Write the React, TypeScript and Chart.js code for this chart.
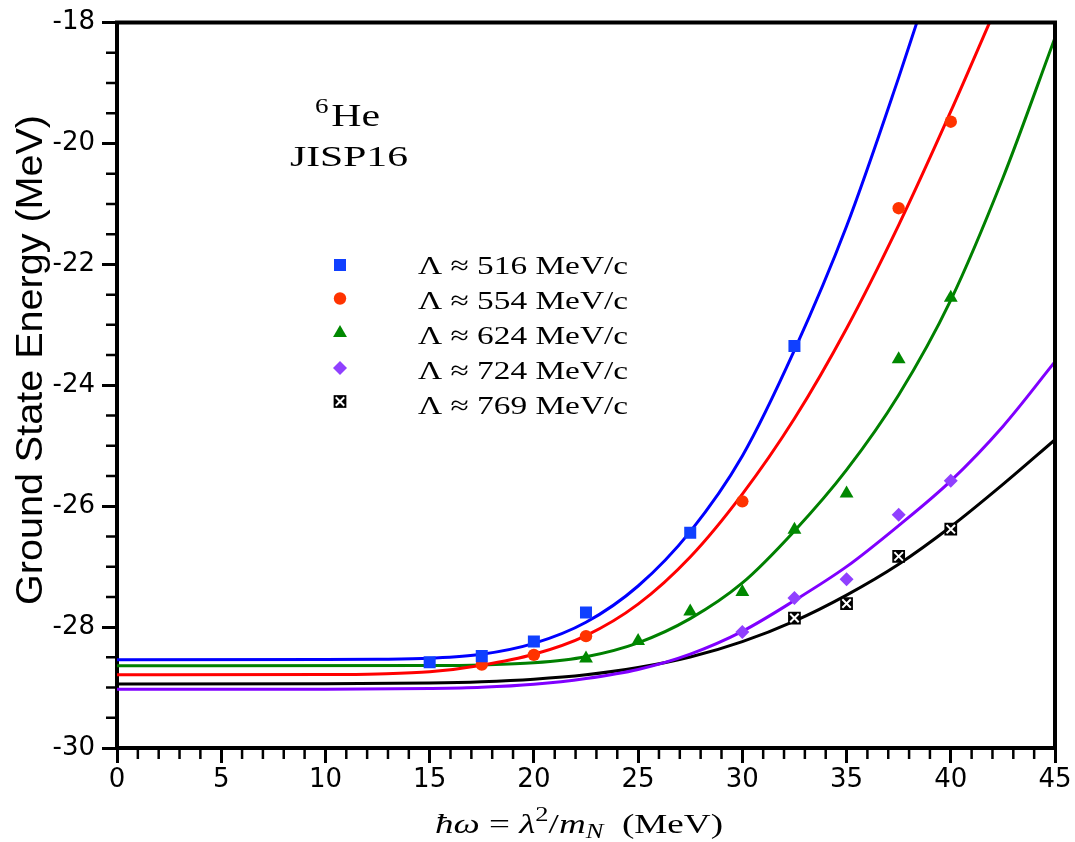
import React, { useEffect, useRef } from 'react';
import { Chart, registerables } from 'chart.js';

Chart.register(...registerables);

// ---------- data ----------
const xTickLabels = ['0', '5', '10', '15', '20', '25', '30', '35', '40', '45'];
const yTickLabels = ['-30', '-28', '-26', '-24', '-22', '-20', '-18'];

const seriesLabels = [
  'Λ ≈ 516 MeV/c',
  'Λ ≈ 554 MeV/c',
  'Λ ≈ 624 MeV/c',
  'Λ ≈ 724 MeV/c',
  'Λ ≈ 769 MeV/c',
];

// computed points
const hw516 = [15, 17.5, 20, 22.5, 27.5, 32.5];
const e516 = [-28.58, -28.48, -28.24, -27.76, -26.44, -23.35];
const hw554 = [17.5, 20, 22.5, 30, 37.5, 40];
const e554 = [-28.62, -28.46, -28.15, -25.92, -21.07, -19.64];
const hw624 = [22.5, 25, 27.5, 30, 32.5, 35, 37.5, 40];
const e624 = [-28.52, -28.23, -27.74, -27.42, -26.39, -25.79, -23.57, -22.55];
const hw724 = [30, 32.5, 35, 37.5, 40];
const e724 = [-28.08, -27.52, -27.21, -26.14, -25.58];
const hw769 = [32.5, 35, 37.5, 40];
const e769 = [-27.85, -27.61, -26.83, -26.38];

// fitted curves
const fitX516 = [0, 10, 12.5, 15, 17.5, 20, 22.5, 25, 27.5, 30, 32.5, 35, 37.5, 38.37];
const fit516 = [-28.54, -28.538, -28.533, -28.515, -28.45, -28.27, -27.92, -27.32, -26.42, -25.17, -23.42, -21.37, -18.91, -18.0];
const fitX554 = [0, 10, 12.5, 15, 17.5, 20, 22.5, 25, 27.5, 30, 32.5, 35, 37.5, 40, 41.86];
const fit554 = [-28.79, -28.785, -28.775, -28.74, -28.63, -28.45, -28.14, -27.62, -26.84, -25.8, -24.55, -23.06, -21.35, -19.47, -18.0];
const fitX624 = [0, 15, 17.5, 20, 22.5, 25, 27.5, 30, 32.5, 35, 37.5, 40, 42.5, 45];
const fit624 = [-28.64, -28.635, -28.625, -28.59, -28.49, -28.26, -27.86, -27.27, -26.41, -25.4, -24.16, -22.59, -20.57, -18.25];
const fitX724 = [0, 10, 15, 17.5, 20, 22.5, 25, 27.5, 30, 32.5, 35, 37.5, 40, 42.5, 45];
const fit724 = [-29.03, -29.028, -29.016, -28.996, -28.946, -28.85, -28.7, -28.446, -28.07, -27.56, -27.0, -26.32, -25.58, -24.68, -23.61];
const fitX769 = [0, 10, 15, 17.5, 20, 22.5, 25, 27.5, 30, 32.5, 35, 37.5, 40, 42.5, 45];
const fit769 = [-28.94, -28.938, -28.926, -28.905, -28.863, -28.79, -28.67, -28.495, -28.24, -27.9, -27.47, -26.96, -26.34, -25.64, -24.9];

// ---------- styles ----------
const lineColors = ['#0000ff', '#ff0000', '#008000', '#8000ff', '#000000'];
const markerColors = ['#1040ff', '#ff3300', '#008800', '#9040ff', '#000000'];
const SERIF = '"Liberation Serif", "Times New Roman", serif';
const SANS = '"Liberation Sans", Arial, sans-serif';

const pts = (xs: number[], ys: number[]) => xs.map((x, i) => ({ x, y: ys[i] }));

type Piece = { text: string; font: string; dy?: number; dx?: number };

function drawRich(ctx: CanvasRenderingContext2D, pieces: Piece[], x: number, y: number, targetW: number) {
  const widths = pieces.map((p) => {
    ctx.font = p.font;
    return ctx.measureText(p.text).width + (p.dx || 0);
  });
  const total = widths.reduce((a, b) => a + b, 0);
  const sx = targetW / total;
  ctx.save();
  ctx.translate(x, y);
  ctx.scale(sx, 1);
  ctx.textAlign = 'left';
  ctx.textBaseline = 'alphabetic';
  let cx = 0;
  pieces.forEach((p, i) => {
    ctx.font = p.font;
    ctx.fillText(p.text, cx + (p.dx || 0), p.dy || 0);
    cx += widths[i];
  });
  ctx.restore();
}

function drawMarker(ctx: CanvasRenderingContext2D, kind: number, x: number, y: number) {
  ctx.save();
  ctx.fillStyle = markerColors[kind];
  ctx.beginPath();
  if (kind === 0) {
    const s = 8.5 * Math.SQRT1_2;
    ctx.rect(x - s, y - s, 2 * s, 2 * s);
    ctx.fill();
  } else if (kind === 1) {
    ctx.arc(x, y, 6.2, 0, Math.PI * 2);
    ctx.fill();
  } else if (kind === 2) {
    const r = 8;
    ctx.moveTo(x, y - r);
    ctx.lineTo(x + r * 0.866, y + r * 0.5);
    ctx.lineTo(x - r * 0.866, y + r * 0.5);
    ctx.closePath();
    ctx.fill();
  } else if (kind === 3) {
    const r = 7;
    ctx.moveTo(x - r, y);
    ctx.lineTo(x, y - r);
    ctx.lineTo(x + r, y);
    ctx.lineTo(x, y + r);
    ctx.closePath();
    ctx.fill();
  } else {
    const s = 9 * Math.SQRT1_2;
    ctx.rect(x - s, y - s, 2 * s, 2 * s);
    ctx.fill();
    const c = 6 * Math.SQRT1_2;
    ctx.strokeStyle = '#ffffff';
    ctx.lineWidth = 2;
    ctx.beginPath();
    ctx.moveTo(x - c, y - c);
    ctx.lineTo(x + c, y + c);
    ctx.moveTo(x + c, y - c);
    ctx.lineTo(x - c, y + c);
    ctx.stroke();
  }
  ctx.restore();
}

const decorPlugin = {
  id: 'decor',
  afterDraw(chart: any) {
    const ctx: CanvasRenderingContext2D = chart.ctx;
    const { left, right, top, bottom } = chart.chartArea;
    const xs = chart.scales.x;
    const ys = chart.scales.y;
    ctx.save();
    ctx.strokeStyle = '#000';
    ctx.fillStyle = '#000';

    // minor ticks
    ctx.lineWidth = 2.5;
    ctx.beginPath();
    for (let v = 0; v <= 45; v += 1) {
      if (v % 5 === 0) continue;
      const px = xs.getPixelForValue(v);
      ctx.moveTo(px, bottom + 2);
      ctx.lineTo(px, bottom + 11);
    }
    for (let v = -30; v <= -18; v += 0.5) {
      if (Math.abs(v % 2) < 1e-6) continue;
      const py = ys.getPixelForValue(v);
      ctx.moveTo(left - 2, py);
      ctx.lineTo(left - 11, py);
    }
    ctx.stroke();

    // top / right frame
    ctx.lineWidth = 4;
    ctx.beginPath();
    ctx.moveTo(left - 2, top);
    ctx.lineTo(right + 2, top);
    ctx.moveTo(right, top);
    ctx.lineTo(right, bottom + 2);
    ctx.stroke();

    // annotation
    ctx.fillStyle = '#000';
    drawRich(ctx, [
      { text: '6', font: `20px ${SERIF}`, dy: -13 },
      { text: 'He', font: `31px ${SERIF}`, dx: 2 },
    ], 315, 126, 65);
    drawRich(ctx, [{ text: 'JISP16', font: `30px ${SERIF}` }], 290, 166, 118);

    // legend
    const rowsMarker = [265, 298.5, 333, 368, 401.5];
    const rowsText = [274, 309, 344, 379, 414];
    seriesLabels.forEach((lab, i) => {
      drawMarker(ctx, i, 340, rowsMarker[i]);
      ctx.fillStyle = '#000';
      drawRich(ctx, [{ text: lab, font: `26px ${SERIF}` }], 418, rowsText[i], 210);
    });

    // x axis title
    const F = 28;
    drawRich(ctx, [
      { text: 'ħω', font: `italic ${F}px ${SERIF}` },
      { text: ' = ', font: `${F}px ${SERIF}` },
      { text: 'λ', font: `italic ${F}px ${SERIF}` },
      { text: '2', font: `${Math.round(F * 0.7)}px ${SERIF}`, dy: -12 },
      { text: '/', font: `${F}px ${SERIF}` },
      { text: 'm', font: `italic ${F}px ${SERIF}` },
      { text: 'N', font: `italic ${Math.round(F * 0.7)}px ${SERIF}`, dy: 5 },
      { text: '  (MeV)', font: `${F}px ${SERIF}` },
    ], 435, 833, 288);

    // y axis title
    ctx.save();
    ctx.translate(42, 360);
    ctx.rotate(-Math.PI / 2);
    ctx.font = `36px ${SANS}`;
    const w = ctx.measureText('Ground State Energy (MeV)').width;
    ctx.scale(490 / w, 1);
    ctx.textAlign = 'center';
    ctx.textBaseline = 'alphabetic';
    ctx.fillText('Ground State Energy (MeV)', 0, 0);
    ctx.restore();

    ctx.restore();
  },
};

export default function App() {
  const canvasRef = useRef<HTMLCanvasElement | null>(null);

  useEffect(() => {
    const canvas = canvasRef.current;
    if (!canvas) return;

    const markerSets: any[] = [
      { data: pts(hw516, e516), pointStyle: 'rect', pointRadius: 8.5, pointBackgroundColor: markerColors[0] },
      { data: pts(hw554, e554), pointStyle: 'circle', pointRadius: 6.2, pointBackgroundColor: markerColors[1] },
      { data: pts(hw624, e624), pointStyle: 'triangle', pointRadius: 8, pointBackgroundColor: markerColors[2] },
      { data: pts(hw724, e724), pointStyle: 'rectRot', pointRadius: 7, pointBackgroundColor: markerColors[3] },
      { data: pts(hw769, e769), pointStyle: 'rect', pointRadius: 9, pointBackgroundColor: markerColors[4] },
    ].map((d, i) => ({
      ...d,
      label: seriesLabels[i],
      showLine: false,
      pointBorderWidth: 0,
      pointBorderColor: markerColors[i],
      pointHoverRadius: d.pointRadius,
      order: 1,
    }));

    const crossSet = {
      label: seriesLabels[4] + ' ×',
      data: pts(hw769, e769),
      showLine: false,
      pointStyle: 'crossRot',
      pointRadius: 6,
      pointBorderWidth: 2,
      pointBorderColor: '#ffffff',
      order: 0,
    };

    const fits: [number[], number[]][] = [
      [fitX516, fit516],
      [fitX554, fit554],
      [fitX624, fit624],
      [fitX724, fit724],
      [fitX769, fit769],
    ];
    const curveSets = fits.map(([xs, ys], i) => ({
      label: seriesLabels[i] + ' fit',
      data: pts(xs, ys),
      borderColor: lineColors[i],
      borderWidth: 3,
      pointRadius: 0,
      fill: false,
      cubicInterpolationMode: 'monotone',
      clip: 0,
      order: 2,
    }));

    const chart = new Chart(canvas, {
      type: 'line',
      data: { datasets: [...markerSets, crossSet, ...curveSets] as any },
      options: {
        animation: false,
        responsive: false,
        devicePixelRatio: 1,
        events: [],
        layout: { padding: { top: 19, right: 20, left: 0, bottom: 0 } },
        plugins: { legend: { display: false }, tooltip: { enabled: false } },
        scales: {
          x: {
            type: 'linear',
            min: 0,
            max: 45,
            afterFit: (s: any) => { s.height = 94; },
            ticks: {
              stepSize: 5,
              padding: 2,
              color: '#000',
              font: { family: 'DejaVu Sans', size: 26 },
              callback: (v: any) => xTickLabels[Math.round(Number(v) / 5)] ?? '',
            },
            grid: { display: true, drawOnChartArea: false, drawTicks: true, tickLength: 15, tickWidth: 3, tickColor: '#000' },
            border: { display: true, width: 4, color: '#000' },
            title: { display: false },
          },
          y: {
            type: 'linear',
            min: -30,
            max: -18,
            afterFit: (s: any) => { s.width = 117; },
            ticks: {
              stepSize: 2,
              padding: 7,
              color: '#000',
              font: { family: 'DejaVu Sans', size: 26 },
              callback: (v: any) => yTickLabels[Math.round((Number(v) + 30) / 2)] ?? '',
            },
            grid: { display: true, drawOnChartArea: false, drawTicks: true, tickLength: 15, tickWidth: 3, tickColor: '#000' },
            border: { display: true, width: 4, color: '#000' },
            title: { display: false },
          },
        },
      },
      plugins: [decorPlugin],
    });

    return () => chart.destroy();
  }, []);

  return (
    <div style={{ position: 'fixed', left: 0, top: 0, width: 1075, height: 842, background: '#fff' }}>
      <canvas ref={canvasRef} width={1075} height={842} style={{ display: 'block' }} />
    </div>
  );
}
